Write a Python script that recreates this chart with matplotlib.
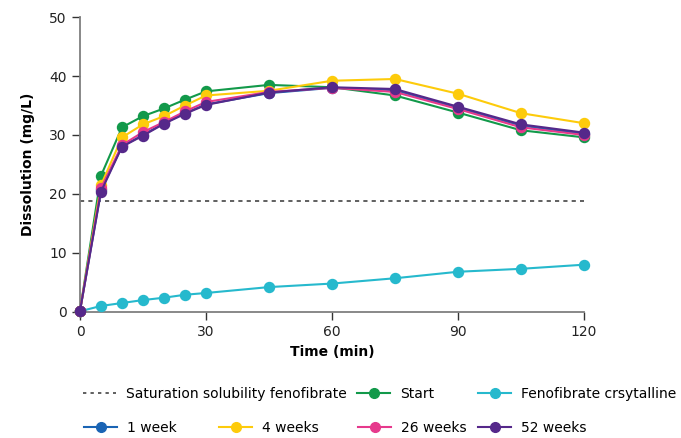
import numpy as np
import matplotlib.pyplot as plt
from matplotlib.lines import Line2D

# Data
time = [0, 5, 10, 15, 20, 25, 30, 45, 60, 75, 90, 105, 120]
saturation = 18.8
crystalline = [0.1, 1.0, 1.5, 2.0, 2.4, 2.9, 3.2, 4.2, 4.8, 5.7, 6.8, 7.3, 8.0]
start = [0.2, 23.1, 31.3, 33.2, 34.5, 36.0, 37.4, 38.5, 38.1, 36.7, 33.8, 30.8, 29.6]
week1 = [0.2, 20.6, 28.1, 30.0, 32.0, 33.7, 35.2, 37.1, 38.0, 37.6, 34.6, 31.6, 30.2]
week4 = [0.2, 21.5, 29.6, 31.8, 33.2, 35.0, 36.7, 37.5, 39.2, 39.5, 37.0, 33.7, 32.0]
week26 = [0.2, 21.0, 28.3, 30.5, 32.2, 34.0, 35.6, 37.3, 38.0, 37.3, 34.4, 31.3, 30.0]
week52 = [0.2, 20.4, 28.0, 29.9, 31.9, 33.6, 35.1, 37.2, 38.1, 37.8, 34.8, 31.8, 30.4]

labels = ["Saturation solubility fenofibrate", "Start", "Fenofibrate crsytalline",
          "1 week", "4 weeks", "26 weeks", "52 weeks"]
colors = {"Start": "#12994a", "Fenofibrate crsytalline": "#26b9cd",
          "1 week": "#1a64b4", "4 weeks": "#fdcb0b", "26 weeks": "#e6398c",
          "52 weeks": "#55288a"}

fig = plt.figure(figsize=(6.81, 4.38), dpi=100)
ax = fig.add_axes([0.1175, 0.288, 0.740, 0.673])

series = [("Fenofibrate crsytalline", crystalline), ("Start", start),
          ("1 week", week1), ("4 weeks", week4), ("26 weeks", week26),
          ("52 weeks", week52)]
for name, vals in series:
    ax.plot(time, vals, color=colors[name], lw=1.5, marker="o", ms=7.2,
            clip_on=False, zorder=3)

ax.plot([0, 120], [saturation, saturation], color="#444444", lw=1.2,
        linestyle=(0, (2.5, 2.5)), zorder=2)

ax.set_xlim(0, 120)
ax.set_ylim(0, 50)
ax.set_xticks([0, 30, 60, 90, 120])
ax.set_yticks([0, 10, 20, 30, 40, 50])
for s in ["top", "right"]:
    ax.spines[s].set_visible(False)
for s in ["left", "bottom"]:
    ax.spines[s].set_color("#7f7f7f")
    ax.spines[s].set_linewidth(1.3)
ax.tick_params(direction="out", length=6, width=1, color="#333333",
               labelsize=10, labelcolor="#222222")
ax.set_xlabel("Time (min)", fontsize=10, fontweight="bold", labelpad=4)
ax.set_ylabel("Dissolution (mg/L)", fontsize=10, fontweight="bold", labelpad=10)

# Legend entries placed in a 4-column grid (two rows)
def handle(name):
    if name.startswith("Saturation"):
        return Line2D([], [], color="#444444", lw=1.2, linestyle=(0, (2, 2.5)))
    c = colors[name]
    return Line2D([], [], color=c, lw=1.5, marker="o", ms=7,
                  markerfacecolor=c, markeredgecolor=c)

row1, row2 = 0.1005, 0.0228
positions = {
    labels[0]: (83, row1), labels[1]: (357, row1), labels[2]: (478, row1),
    labels[3]: (84, row2), labels[4]: (219, row2), labels[5]: (358, row2),
    labels[6]: (478, row2),
}
for name, (x, y) in positions.items():
    fig.legend([handle(name)], [name], loc="center left",
               bbox_to_anchor=(x / 681, y), frameon=False, fontsize=10,
               handlelength=2.4, handletextpad=0.7, borderpad=0,
               borderaxespad=0)

fig.savefig("out.png", dpi=100)
